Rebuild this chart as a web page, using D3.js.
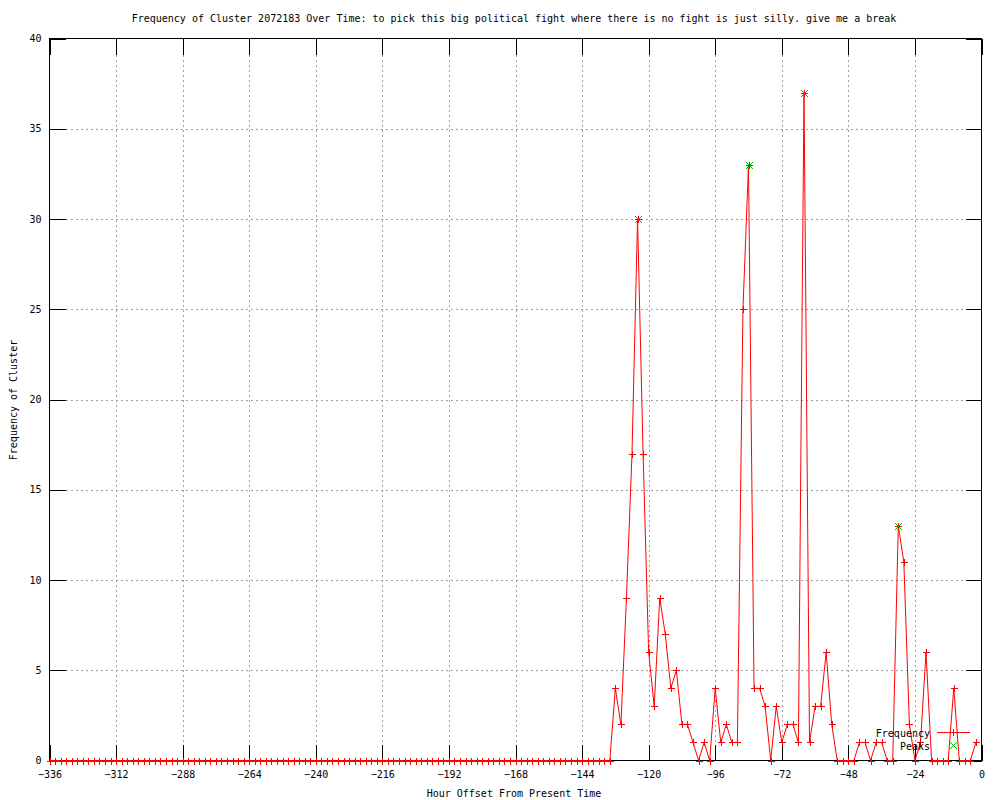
<!DOCTYPE html>
<html>
<head>
<meta charset="utf-8">
<script src="https://cdn.jsdelivr.net/npm/d3@7"></script>
<style>
  html, body { margin: 0; padding: 0; background: #fff; }
  text { font-family: "DejaVu Sans Mono", "Liberation Mono", monospace; font-size: 10px; fill: #000; }
</style>
</head>
<body>
<svg id="chart" width="1000" height="800"></svg>
<script>
// ---- data ----
const titleText = "Frequency of Cluster 2072183 Over Time: to pick this big political fight where there is no fight is just silly. give me a break";
const xLabel = "Hour Offset From Present Time";
const yLabel = "Frequency of Cluster";
const hours = d3.range(-336, 0, 2); // sample hours, every 2 hours (-336 .. -2)
const frequency = [
  0,0,0,0,0,0,0,0,0,0, 0,0,0,0,0,0,0,0,0,0,
  0,0,0,0,0,0,0,0,0,0, 0,0,0,0,0,0,0,0,0,0,
  0,0,0,0,0,0,0,0,0,0, 0,0,0,0,0,0,0,0,0,0,
  0,0,0,0,0,0,0,0,0,0, 0,0,0,0,0,0,0,0,0,0,
  0,0,0,0,0,0,0,0,0,0, 0,0,0,0,0,0,0,0,0,0,
  0,0,
  4,2,9,17,30,17,6,3,9,7,
  4,5,2,2,1,0,1,0,4,1,
  2,1,1,25,33,4,4,3,0,3,
  1,2,2,1,37,1,3,3,6,2,
  0,0,0,0,1,1,0,1,1,0,
  0,13,11,2,0,1,6,0,0,0,
  0,4,0,0,0,1
];
const peakHours = [-124, -84, -64, -30];
const peakValues = [30, 33, 37, 13];
const xTicks = [-336,-312,-288,-264,-240,-216,-192,-168,-144,-120,-96,-72,-48,-24,0];
const yTicks = [0,5,10,15,20,25,30,35,40];

// ---- layout ----
const svg = d3.select("#chart");
const L = 49.5, R = 981.5, T = 38.5, B = 760.5;
const x = d3.scaleLinear().domain([-336, 0]).range([L, R]);
const y = d3.scaleLinear().domain([0, 40]).range([B, T]);
const tickLen = 16;

// grid
const grid = svg.append("g").attr("shape-rendering", "crispEdges")
  .attr("stroke", "#a0a0a0").attr("stroke-width", 1).attr("stroke-dasharray", "2,3");
xTicks.filter(v => v !== -336 && v !== 0).forEach(v => {
  grid.append("line").attr("x1", Math.round(x(v)) + 0.5).attr("x2", Math.round(x(v)) + 0.5)
    .attr("y1", T + tickLen).attr("y2", B - tickLen);
});
yTicks.filter(v => v !== 0 && v !== 40).forEach(v => {
  grid.append("line").attr("y1", Math.round(y(v)) + 0.5).attr("y2", Math.round(y(v)) + 0.5)
    .attr("x1", L + tickLen).attr("x2", R - tickLen);
});

// axes (ticks inside, mirrored)
const axB = d3.axisBottom(x).tickValues(xTicks).tickSizeInner(-tickLen).tickSizeOuter(0).tickPadding(10).tickFormat(d3.format("d"));
const axT = d3.axisTop(x).tickValues(xTicks).tickSizeInner(-tickLen).tickSizeOuter(0).tickFormat("");
const axL = d3.axisLeft(y).tickValues(yTicks).tickSizeInner(-tickLen).tickSizeOuter(0).tickPadding(8).tickFormat(d3.format("d"));
const axR = d3.axisRight(y).tickValues(yTicks).tickSizeInner(-tickLen).tickSizeOuter(0).tickFormat("");

function styleAxis(g) {
  g.attr("shape-rendering", "crispEdges");
  g.select(".domain").remove();
  g.selectAll(".tick line").attr("stroke", "#000");
  g.selectAll("text").attr("fill", "#000").style("font-family", '"DejaVu Sans Mono", monospace').style("font-size", "10px");
}
svg.append("g").attr("transform", `translate(0,${B})`).call(axB).call(styleAxis);
svg.append("g").attr("transform", `translate(0,${T})`).call(axT).call(styleAxis);
svg.append("g").attr("transform", `translate(${L},0)`).call(axL).call(styleAxis);
svg.append("g").attr("transform", `translate(${R},0)`).call(axR).call(styleAxis);

// border
svg.append("rect").attr("x", L).attr("y", T).attr("width", R - L).attr("height", B - T)
  .attr("fill", "none").attr("stroke", "#000").attr("shape-rendering", "crispEdges");

// data line
const data = hours.map((h, i) => ({ h, v: frequency[i] }));
const line = d3.line().x(d => x(d.h)).y(d => y(d.v));
svg.append("path").datum(data).attr("d", line)
  .attr("fill", "none").attr("stroke", "#ff0000").attr("stroke-width", 1);

// plus markers
const ps = 3.5;
function plus(g, cx, cy, color) {
  g.append("path").attr("d", `M${cx - ps},${cy}H${cx + ps}M${cx},${cy - ps}V${cy + ps}`)
    .attr("stroke", color).attr("fill", "none").attr("stroke-width", 1);
}
function cross(g, cx, cy, color) {
  g.append("path").attr("d", `M${cx - ps},${cy - ps}L${cx + ps},${cy + ps}M${cx - ps},${cy + ps}L${cx + ps},${cy - ps}`)
    .attr("stroke", color).attr("fill", "none").attr("stroke-width", 1);
}
const marks = svg.append("g");
data.forEach(d => plus(marks, Math.round(x(d.h)) + 0.5, Math.round(y(d.v)) + 0.5, "#ff0000"));
const peaks = svg.append("g");
peakHours.forEach((h, i) => cross(peaks, Math.round(x(h)) + 0.5, Math.round(y(peakValues[i])) + 0.5, "#00c000"));

// title and labels
svg.append("text").attr("x", 514).attr("y", 22).attr("text-anchor", "middle").text(titleText);
svg.append("text").attr("x", 514).attr("y", 797).attr("text-anchor", "middle").text(xLabel);
svg.append("text").attr("transform", "translate(17,400) rotate(-90)").attr("text-anchor", "middle").text(yLabel);

// legend
const lg = svg.append("g");
lg.append("text").attr("x", 930).attr("y", 736.5).attr("text-anchor", "end").text("Frequency");
lg.append("line").attr("x1", 937).attr("x2", 970).attr("y1", 732.5).attr("y2", 732.5).attr("stroke", "#ff0000");
plus(lg, 953.5, 732.5, "#ff0000");
lg.append("text").attr("x", 930).attr("y", 749.5).attr("text-anchor", "end").text("Peaks");
cross(lg, 953.5, 745.5, "#00c000");
</script>
</body>
</html>
